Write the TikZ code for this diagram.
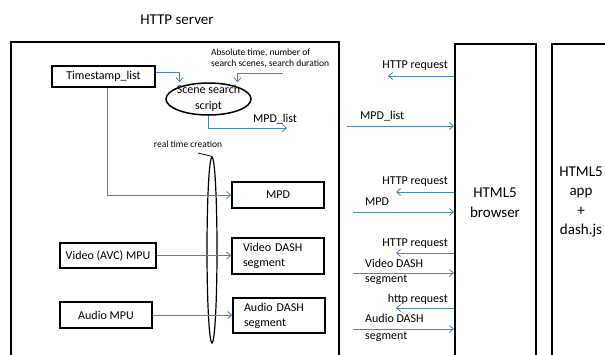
\documentclass[tikz,border=0pt]{standalone}
\usepackage{fontspec}
\setmainfont{Carlito}
\usetikzlibrary{shapes.geometric,arrows.meta}
\definecolor{arr}{RGB}{79,129,189}
\begin{document}
\begin{tikzpicture}[x=1pt,y=-1pt,
  box/.style={draw,line width=1.5pt,inner sep=0pt,font=\fontsize{12}{15}\selectfont},
  frame/.style={draw,line width=1.6pt,anchor=north west,inner sep=0pt},
  flow/.style={draw=arr,line width=0.8pt,-{Straight Barb[length=4pt,width=7pt]}},
  lbl/.style={font=\fontsize{12}{15}\selectfont,inner sep=0pt},
  big/.style={font=\fontsize{15}{19.5}\selectfont,inner sep=0pt,align=center},
  small/.style={font=\fontsize{9.5}{11}\selectfont,inner sep=0pt},
]
\useasboundingbox (0,0) rectangle (605,354);
\clip (0,0) rectangle (605,354);
\fill[white] (0,0) rectangle (605,354);

% frames
\node[frame,minimum width=328pt,minimum height=330pt] (server) at (10,41) {};
\node[font=\fontsize{15}{18}\selectfont,inner sep=0pt] (title) at (177,20) {HTTP server};
\node[frame,minimum width=81pt,minimum height=330pt] (browser) at (454,43) {};
\node[frame,minimum width=80pt,minimum height=330pt] (app) at (551,43) {};
\node[big] (btxt) at (495,202.5) {HTML5\\browser};
\node[big] (atxt) at (581,202) {HTML5\\app\\+\\dash.js};

% server contents
\node[box,line width=2pt,minimum width=103pt,minimum height=21pt] (ts) at (103.5,76.5) {Timestamp\_list};
\node[ellipse,draw,line width=1.5pt,minimum width=85pt,minimum height=32pt,inner sep=0pt] (sss) at (208.5,99) {};
\node[lbl,align=center,font=\fontsize{12}{16}\selectfont] (ssst) at (208.5,98) {Scene search\\script};
\node[small,align=left,anchor=west] (abs) at (211,58) {Absolute time, number of\\search scenes, search duration};
\coordinate (in1) at (283,73);
\coordinate (mpdl) at (287,128);
\node[lbl] (mpdllbl) at (275,119) {MPD\_list};

\node[box,minimum width=92pt,minimum height=26pt] (mpd) at (278,195) {MPD};
\node[box,minimum width=92pt,minimum height=36pt,text width=70pt,inner xsep=11pt,align=left,font=\fontsize{12}{15}\selectfont] (vds) at (278,256) {Video DASH\\segment};
\node[box,minimum width=92pt,minimum height=35pt,text width=70pt,inner xsep=11pt,align=left,font=\fontsize{12}{15}\selectfont] (ads) at (279,315.5) {Audio DASH\\segment};
\node[box,minimum width=96pt,minimum height=25pt] (vmpu) at (108,255.5) {Video (AVC) MPU};
\node[box,minimum width=92pt,minimum height=26pt] (ampu) at (106,315) {Audio MPU};

\node[ellipse,draw,line width=1.2pt,minimum width=10pt,minimum height=186pt,inner sep=0pt] (rt) at (212,250) {};
\node[small] (rtl) at (188,144) {real time creation};
\coordinate (rtp) at (198,153);
\draw[line width=0.8pt] (rtp) -- (rt.north);

\draw[flow] ([yshift=4.5pt]ts.east) -| ([xshift=-29pt]sss.north);
\draw[flow] (in1) -| ([xshift=29pt]sss.north);
\draw[flow] (sss.south) |- (mpdl);
\draw[flow] ([xshift=3.5pt]ts.south) |- (mpd.west);
\draw[flow] (vmpu.east) -- (vds.west |- vmpu.east);
\draw[flow] (ampu.east) -- (ads.west |- ampu.east);

% exchanges with browser
\coordinate (r1) at (388,76);
\coordinate (s1) at (347,126);
\coordinate (r2) at (396,192);
\coordinate (s2) at (353,212);
\coordinate (r3) at (396,253);
\coordinate (s3) at (353,273);
\coordinate (r4) at (396,308);
\coordinate (s4) at (353,329);
\draw[flow] (r1 -| browser.west) -- (r1);
\draw[flow] (s1) -- (s1 -| browser.west);
\draw[flow] (r2 -| browser.west) -- (r2);
\draw[flow] (s2) -- (s2 -| browser.west);
\draw[flow] (r3 -| browser.west) -- (r3);
\draw[flow] (s3) -- (s3 -| browser.west);
\draw[flow] (r4 -| browser.west) -- (r4);
\draw[flow] (s4) -- (s4 -| browser.west);

\node[lbl,anchor=east] (l1) at (448,66) {HTTP request};
\node[lbl,anchor=west] (l2) at (360,116) {MPD\_list};
\node[lbl,anchor=east] (l3) at (448,182) {HTTP request};
\node[lbl,anchor=west] (l4) at (365,202) {MPD};
\node[lbl,anchor=east] (l5) at (448,244) {HTTP request};
\node[lbl,anchor=west,align=left] (l6) at (365,271.5) {Video DASH\\segment};
\node[lbl,anchor=east] (l7) at (448,299) {http request};
\node[lbl,anchor=west,align=left,font=\fontsize{12}{17}\selectfont] (l8) at (365,327.5) {Audio DASH\\segment};
\end{tikzpicture}
\end{document}
